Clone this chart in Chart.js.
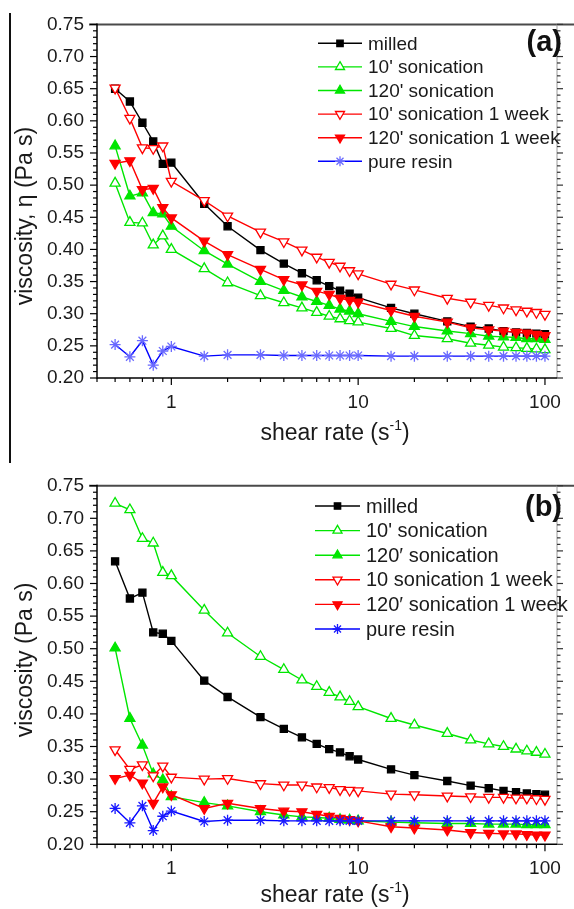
<!DOCTYPE html>
<html><head><meta charset="utf-8">
<script src="https://cdn.jsdelivr.net/npm/chart.js@4.4.0/dist/chart.umd.min.js"></script>
<style>
html,body{margin:0;padding:0;background:#fff;width:574px;height:909px;overflow:hidden}
#wrap{position:relative;width:574px;height:909px}
canvas{position:absolute;left:0}
#ca{top:0}
#cb{top:455px}
#edge{position:absolute;left:9px;top:13px;width:1.5px;height:450px;background:#111}
</style></head><body>
<div id="wrap">
<canvas id="ca" width="574" height="455"></canvas>
<canvas id="cb" width="574" height="454"></canvas>
<div id="edge"></div>
</div>
<script>
// ---------- data ----------
const shearRate = [0.5,0.6,0.7,0.8,0.9,1,1.5,2,3,4,5,6,7,8,9,10,15,20,30,40,50,60,70,80,90,100];
const xTickLabels = [1,10,100];
const yTickLabels = [0.20,0.25,0.30,0.35,0.40,0.45,0.50,0.55,0.60,0.65,0.70,0.75];

const legendA = ["milled","10' sonication","120' sonication","10' sonication 1 week","120' sonication 1 week","pure resin"];
const legendB = ["milled","10' sonication","120\u2032 sonication","10 sonication 1 week","120\u2032 sonication 1 week","pure resin"];

// panel (a)
const milledA   = [0.650,0.630,0.597,0.568,0.533,0.535,0.471,0.436,0.399,0.378,0.363,0.352,0.343,0.336,0.331,0.325,0.309,0.300,0.288,0.280,0.277,0.273,0.271,0.270,0.269,0.268];
const son10A    = [0.503,0.442,0.441,0.407,0.421,0.400,0.370,0.348,0.328,0.317,0.309,0.302,0.296,0.292,0.289,0.287,0.277,0.266,0.261,0.254,0.251,0.248,0.247,0.246,0.245,0.244];
const son120A   = [0.561,0.483,0.488,0.457,0.455,0.436,0.398,0.377,0.350,0.336,0.326,0.319,0.313,0.307,0.304,0.300,0.288,0.280,0.273,0.269,0.265,0.264,0.263,0.261,0.261,0.260];
const son10wA   = [0.651,0.604,0.558,0.557,0.561,0.506,0.476,0.452,0.427,0.412,0.399,0.388,0.380,0.374,0.367,0.362,0.346,0.337,0.324,0.318,0.313,0.309,0.306,0.304,0.302,0.299];
const son120wA  = [0.534,0.538,0.493,0.495,0.465,0.449,0.413,0.392,0.369,0.353,0.345,0.335,0.330,0.324,0.321,0.318,0.305,0.296,0.287,0.278,0.275,0.273,0.271,0.270,0.268,0.266];
const resinA    = [0.252,0.233,0.258,0.220,0.242,0.249,0.234,0.236,0.236,0.235,0.235,0.235,0.235,0.235,0.235,0.235,0.234,0.234,0.234,0.234,0.234,0.234,0.234,0.234,0.234,0.234];

// panel (b)
const milledB   = [0.634,0.577,0.586,0.525,0.523,0.512,0.451,0.426,0.395,0.377,0.364,0.354,0.346,0.341,0.335,0.330,0.315,0.306,0.297,0.290,0.286,0.282,0.280,0.278,0.277,0.276];
const son10B    = [0.723,0.713,0.669,0.662,0.617,0.612,0.559,0.524,0.488,0.468,0.452,0.442,0.433,0.426,0.419,0.411,0.393,0.383,0.370,0.360,0.354,0.350,0.346,0.343,0.341,0.338];
const son120B   = [0.501,0.393,0.352,0.308,0.299,0.273,0.264,0.259,0.250,0.245,0.242,0.241,0.240,0.238,0.237,0.236,0.234,0.233,0.232,0.232,0.231,0.231,0.231,0.230,0.230,0.230];
const son10wB   = [0.345,0.315,0.322,0.305,0.320,0.303,0.300,0.301,0.293,0.291,0.291,0.288,0.287,0.284,0.283,0.282,0.277,0.276,0.274,0.273,0.272,0.272,0.271,0.271,0.270,0.269];
const son120wB  = [0.301,0.306,0.294,0.263,0.288,0.276,0.255,0.263,0.255,0.251,0.250,0.246,0.243,0.240,0.238,0.236,0.227,0.225,0.222,0.218,0.217,0.216,0.216,0.215,0.214,0.214];
const resinB    = [0.255,0.233,0.259,0.221,0.243,0.251,0.235,0.237,0.237,0.236,0.236,0.236,0.236,0.236,0.236,0.236,0.236,0.236,0.236,0.236,0.236,0.236,0.236,0.236,0.236,0.236];

// ---------- styling ----------
const FONT = '"Liberation Sans", Arial, Helvetica, sans-serif';
const GREEN = '#00e600', RED = '#ff0000', BLACK = '#000000', BLUE = '#0000ff';

function seriesStyles(starColor) {
  return [
    {color: BLACK, pcolor: BLACK, fill: BLACK, style: 'rect', rot: 0, r: 5},
    {color: GREEN, pcolor: GREEN, fill: '#ffffff', style: 'triangle', rot: 0, r: 5.8},
    {color: GREEN, pcolor: GREEN, fill: GREEN, style: 'triangle', rot: 0, r: 5.8},
    {color: RED, pcolor: RED, fill: '#ffffff', style: 'triangle', rot: 180, r: 5.8},
    {color: RED, pcolor: RED, fill: RED, style: 'triangle', rot: 180, r: 5.8},
    {color: BLUE, pcolor: starColor, fill: starColor, style: 'star', rot: 0, r: 5.5}
  ];
}

function line(ctx, x1, y1, x2, y2) {
  ctx.beginPath(); ctx.moveTo(x1, y1); ctx.lineTo(x2, y2); ctx.stroke();
}

function makePanel(id, cfg) {
  const styles = seriesStyles(cfg.starColor);
  const datasets = cfg.series.map((vals, i) => {
    const s = styles[i];
    return {
      label: cfg.labels[i],
      data: shearRate.map((x, j) => ({x: x, y: vals[j]})),
      borderColor: s.color, borderWidth: 1.4,
      backgroundColor: s.fill,
      pointStyle: s.style, pointRotation: s.rot, pointRadius: s.r,
      pointBackgroundColor: s.fill, pointBorderColor: s.pcolor, pointBorderWidth: 1.3,
      pointHoverRadius: s.r,
      order: cfg.series.length - i,
      tension: 0, clip: false
    };
  });

  const deco = {
    id: 'deco',
    afterDraw(chart) {
      const ctx = chart.ctx, a = chart.chartArea;
      const xs = chart.scales.x, ys = chart.scales.y;
      ctx.save();
      // frame
      ctx.lineCap = 'butt';
      ctx.strokeStyle = '#4a4a4a'; ctx.lineWidth = 2;
      line(ctx, 89, a.top, 574, a.top);
      ctx.strokeStyle = '#9a9a9a'; ctx.lineWidth = 1;
      line(ctx, a.right, a.top, a.right, a.bottom);
      ctx.strokeStyle = '#000'; ctx.lineWidth = 1.5;
      line(ctx, a.left, a.top - 1, a.left, a.bottom + 0.75);
      line(ctx, a.left, a.bottom, a.right, a.bottom);
      // y ticks (left outward, right outward)
      ctx.lineWidth = 1.2;
      for (let k = 20; k <= 75; k++) {
        const y = ys.getPixelForValue(k / 100);
        const major = k % 5 === 0;
        ctx.strokeStyle = '#000';
        line(ctx, a.left - (major ? 7 : 4), y, a.left, y);
        ctx.strokeStyle = '#333';
        line(ctx, a.right, y, a.right + (major ? 6 : 3.5), y);
      }
      // x ticks
      ctx.strokeStyle = '#000';
      for (const d of [0.1, 1, 10, 100]) {
        for (let m = 1; m <= 9; m++) {
          const v = d * m;
          if (v < xs.min || v > xs.max) continue;
          const x = xs.getPixelForValue(v);
          line(ctx, x, a.bottom, x, a.bottom + (m === 1 ? 7 : 4));
        }
      }
      // legend
      ctx.font = cfg.legendFont + 'px ' + FONT;
      ctx.textBaseline = 'middle';
      ctx.textAlign = 'left';
      chart.data.datasets.forEach((ds, i) => {
        const s = styles[i];
        const y = cfg.legY0 + i * cfg.legDy;
        ctx.strokeStyle = s.color; ctx.lineWidth = 1.4;
        line(ctx, cfg.legX1, y, cfg.legX2, y);
        ctx.fillStyle = s.fill; ctx.strokeStyle = s.pcolor; ctx.lineWidth = 1.3;
        Chart.helpers.drawPoint(ctx, {pointStyle: s.style, rotation: s.rot, radius: s.r * 0.9, borderWidth: 1.3},
          (cfg.legX1 + cfg.legX2) / 2, y);
        ctx.fillStyle = '#1a1a1a';
        ctx.fillText(ds.label, cfg.legTx, y + 1);
      });
      // panel label
      ctx.font = 'bold 29px ' + FONT;
      ctx.textAlign = 'right';
      ctx.fillStyle = '#111';
      ctx.fillText(cfg.panel, 562, cfg.panelY);
      // y title
      ctx.save();
      ctx.translate(31.5, cfg.yTitleY);
      ctx.rotate(-Math.PI / 2);
      ctx.font = '23px ' + FONT;
      ctx.textAlign = 'center';
      ctx.textBaseline = 'alphabetic';
      ctx.fillStyle = '#1a1a1a';
      ctx.fillText(cfg.yTitle, 0, 0);
      ctx.restore();
      // x title with superscript
      const main1 = 'shear rate (s', sup = '-1', main2 = ')';
      ctx.textAlign = 'left'; ctx.textBaseline = 'alphabetic';
      ctx.font = '23px ' + FONT;
      const w1 = ctx.measureText(main1).width, w3 = ctx.measureText(main2).width;
      ctx.font = '14px ' + FONT;
      const w2 = ctx.measureText(sup).width;
      let x0 = 335 - (w1 + w2 + w3) / 2;
      ctx.fillStyle = '#1a1a1a';
      ctx.font = '23px ' + FONT;
      ctx.fillText(main1, x0, cfg.xTitleBase);
      ctx.font = '14px ' + FONT;
      ctx.fillText(sup, x0 + w1, cfg.xTitleBase - 10);
      ctx.font = '23px ' + FONT;
      ctx.fillText(main2, x0 + w1 + w2, cfg.xTitleBase);
      ctx.restore();
    }
  };

  return new Chart(document.getElementById(id), {
    type: 'line',
    data: {datasets: datasets},
    plugins: [deco],
    options: {
      responsive: false, animation: false, devicePixelRatio: 1,
      layout: {padding: {top: cfg.top, right: 7, left: 0, bottom: 0}},
      plugins: {legend: {display: false}, tooltip: {enabled: false}, title: {display: false}},
      scales: {
        x: {
          type: 'logarithmic', min: 0.4, max: 116, position: 'bottom',
          grid: {display: false, drawTicks: false}, border: {display: false},
          afterBuildTicks: s => { s.ticks = xTickLabels.map(v => ({value: v})); },
          afterFit: s => { s.height = cfg.xh; },
          ticks: {padding: 13, autoSkip: false, maxRotation: 0, color: '#1a1a1a',
                  font: {family: FONT, size: 19}, callback: v => String(v)}
        },
        y: {
          type: 'linear', min: 0.2, max: 0.75, position: 'left',
          grid: {display: false, drawTicks: false}, border: {display: false},
          afterBuildTicks: s => { s.ticks = yTickLabels.map(v => ({value: v})); },
          afterFit: s => { s.width = 97; },
          ticks: {padding: 13, autoSkip: false, color: '#1a1a1a',
                  font: {family: FONT, size: 19}, callback: v => Number(v).toFixed(2)}
        }
      }
    }
  });
}

makePanel('ca', {
  series: [milledA, son10A, son120A, son10wA, son120wA, resinA],
  labels: legendA, starColor: '#6a6aff',
  top: 22, xh: 77,
  legY0: 43.3, legDy: 23.6, legX1: 318, legX2: 362, legTx: 368, legendFont: 19,
  panel: '(a)', panelY: 43,
  yTitle: 'viscosity, \u03b7 (Pa s)', yTitleY: 216,
  xTitleBase: 440
});

makePanel('cb', {
  series: [milledB, son10B, son120B, son10wB, son120wB, resinB],
  labels: legendB, starColor: '#1a1aff',
  top: 30.7, xh: 64.7,
  legY0: 51, legDy: 24.6, legX1: 315, legX2: 360, legTx: 366, legendFont: 20,
  panel: '(b)', panelY: 53,
  yTitle: 'viscosity (Pa s)', yTitleY: 205,
  xTitleBase: 447
});
</script>
</body></html>
